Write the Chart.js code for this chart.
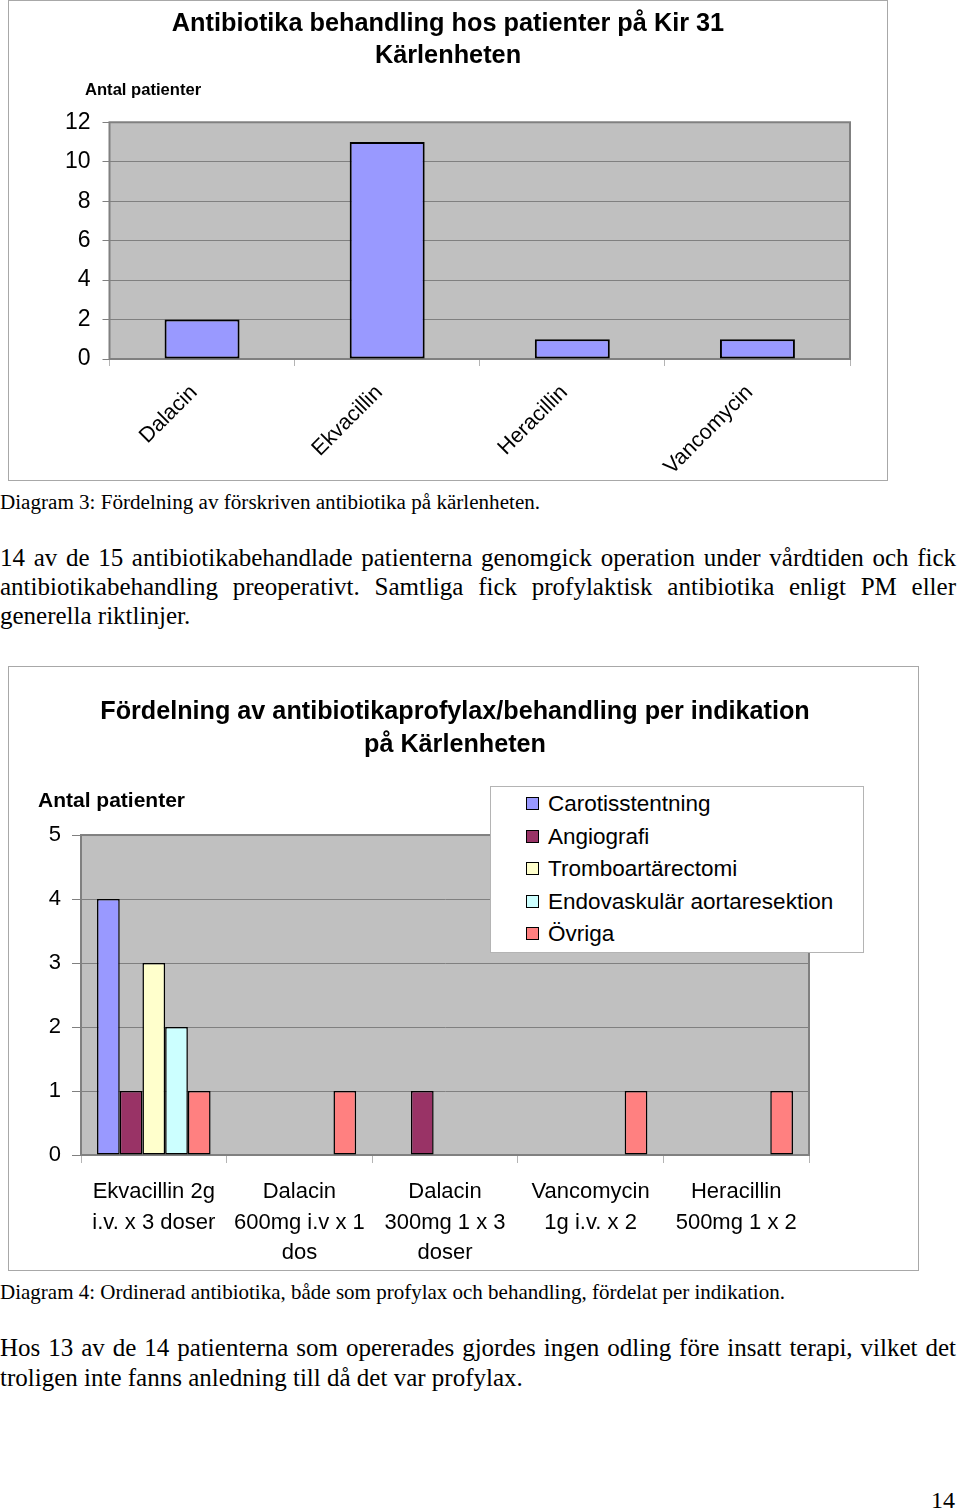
<!DOCTYPE html>
<html>
<head>
<meta charset="utf-8">
<script src="https://cdn.jsdelivr.net/npm/chart.js@4.4.1/dist/chart.umd.min.js"></script>
<style>
  body { margin: 0; background: #fff; }
  #page { position: relative; width: 960px; height: 1511px; overflow: hidden; background: #fff; }
  .box { position: absolute; box-sizing: border-box; border: 1px solid #a8a8a8; background: #fff; }
  .box canvas { position: absolute; left: 0; top: 0; }
  .sans { font-family: "Liberation Sans", Arial, sans-serif; color: #000; }
  .serif { font-family: "Liberation Serif", "Times New Roman", serif; color: #000; }
  .abs { position: absolute; white-space: nowrap; }
  .ytitle { font-weight: bold; }
  .just { position: absolute; left: 0; width: 956px; text-align: justify; text-align-last: justify; }
  .plain { position: absolute; left: 0; white-space: nowrap; }
  #legend { position: absolute; left: 490px; top: 786px; width: 374px; height: 167px; box-sizing: border-box; border: 1px solid #b4b4b4; background: #fff; }
  #legend .row { position: absolute; left: 0; height: 30px; line-height: 30px; font-size: 22.5px; white-space: nowrap; }
  #legend .sw { position: absolute; left: 35px; top: 8px; width: 13px; height: 13px; box-sizing: border-box; border: 1px solid #000; }
  #legend .lbl { position: absolute; left: 57px; top: 0; }
</style>
</head>
<body>
<div id="page">
  <div class="box" style="left:8px;top:0;width:880px;height:481px;">
    <canvas id="chart-drugs" width="878" height="479"></canvas>
  </div>
  <div class="abs sans ytitle" style="left:85px;top:80px;font-size:16.6px;line-height:20px;">Antal patienter</div>

  <div class="plain serif" style="top:490px;font-size:21.1px;line-height:24px;">Diagram 3: Fördelning av förskriven antibiotika på kärlenheten.</div>

  <div class="just serif" style="top:543px;font-size:25px;line-height:29px;">14 av de 15 antibiotikabehandlade patienterna genomgick operation under vårdtiden och fick</div>
  <div class="just serif" style="top:572px;font-size:25px;line-height:29px;">antibiotikabehandling preoperativt. Samtliga fick profylaktisk antibiotika enligt PM eller</div>
  <div class="plain serif" style="top:601px;font-size:25px;line-height:29px;">generella riktlinjer.</div>

  <div class="box" style="left:8px;top:666px;width:911px;height:605px;">
    <canvas id="chart-indications" width="909" height="603"></canvas>
  </div>
  <div class="abs sans ytitle" style="left:38px;top:788px;font-size:21px;line-height:24px;">Antal patienter</div>
  <div id="legend" class="sans"></div>

  <div class="plain serif" style="top:1280px;font-size:21px;line-height:24px;">Diagram 4: Ordinerad antibiotika, både som profylax och behandling, fördelat per indikation.</div>

  <div class="just serif" style="top:1333px;font-size:25px;line-height:30px;">Hos 13 av de 14 patienterna som opererades gjordes ingen odling före insatt terapi, vilket det</div>
  <div class="plain serif" style="top:1363px;font-size:25px;line-height:30px;">troligen inte fanns anledning till då det var profylax.</div>

  <div class="abs serif" style="left:931px;top:1486px;font-size:24px;line-height:28px;">14</div>
</div>

<script>
// Diagram 3
const drugNames = ["Dalacin", "Ekvacillin", "Heracillin", "Vancomycin"];
const drugPatients = [2, 11, 1, 1];
const drugTicks = [0, 2, 4, 6, 8, 10, 12];

// Diagram 4
const regimenLabels = [
  ["Ekvacillin 2g", "i.v. x 3 doser"],
  ["Dalacin", "600mg i.v x 1", "dos"],
  ["Dalacin", "300mg 1 x 3", "doser"],
  ["Vancomycin", "1g i.v. x 2"],
  ["Heracillin", "500mg 1 x 2"],
];
const indicationNames = ["Carotisstentning", "Angiografi", "Tromboartärectomi", "Endovaskulär aortaresektion", "Övriga"];
const carotisstentning = [4, 0, 0, 0, 0];
const angiografi = [1, 0, 1, 0, 0];
const tromboartarectomi = [3, 0, 0, 0, 0];
const endovaskular = [2, 0, 0, 0, 0];
const ovriga = [1, 1, 0, 1, 1];
const indicationTicks = [0, 1, 2, 3, 4, 5];
const indicationColors = ["#9999ff", "#993366", "#ffffcc", "#ccffff", "#ff8080"];

Chart.defaults.font.family = "'Liberation Sans', Arial, sans-serif";
Chart.defaults.color = "#000";
Chart.defaults.animation = false;

// grey plot area like the old Excel charts
const plotBg = {
  id: "plotBg",
  beforeDraw(chart) {
    const a = chart.chartArea;
    const c = chart.ctx;
    c.save();
    c.fillStyle = "#c0c0c0";
    c.fillRect(a.left, a.top, a.right - a.left, a.bottom - a.top);
    c.strokeStyle = "#808080";
    c.lineWidth = 2;
    c.strokeRect(a.left, a.top, a.right - a.left, a.bottom - a.top);
    c.restore();
  },
};

const fixedTicks = (list) => (s) => { s.ticks = list.map((v) => ({ value: v })); };

const drugsCanvas = document.querySelector("#chart-drugs");
const chartDrugs = new Chart(drugsCanvas, {
  type: "bar",
  data: {
    labels: drugNames,
    datasets: [
      {
        label: "Antal patienter",
        data: drugPatients,
        backgroundColor: "#9999ff",
        borderColor: "#000",
        borderWidth: 2,
        borderSkipped: false,
        barPercentage: 0.405,
        categoryPercentage: 1,
      },
    ],
  },
  options: {
    responsive: false,
    layout: { padding: 0 },
    plugins: {
      legend: { display: false },
      tooltip: { enabled: false },
      title: {
        display: true,
        text: ["Antibiotika behandling hos patienter på Kir 31", "Kärlenheten"],
        color: "#000",
        font: { size: 25.3, weight: "bold", lineHeight: 1.27 },
        padding: { top: 7, bottom: 50 },
      },
    },
    scales: {
      x: {
        ticks: { font: { size: 21.5 }, minRotation: 45, maxRotation: 45, padding: 14, labelOffset: -8 },
        grid: { offset: true, drawOnChartArea: false, tickLength: 7, color: "#b4b4b4" },
        border: { color: "#808080", width: 2 },
        afterFit: (s) => { s.height = 121; },
      },
      y: {
        min: 0,
        max: 12,
        afterBuildTicks: fixedTicks(drugTicks),
        ticks: { font: { size: 23 }, padding: 12 },
        grid: { color: "#808080", tickLength: 7 },
        border: { color: "#808080" },
        afterFit: (s) => { s.width = 100.5; },
      },
      pad: {
        position: "right",
        ticks: { display: false },
        grid: { display: false },
        border: { display: false },
        afterFit: (s) => { s.width = 37; },
      },
    },
  },
  plugins: [plotBg],
});

const indicationSeries = [carotisstentning, angiografi, tromboartarectomi, endovaskular, ovriga];

const indicationsCanvas = document.querySelector("#chart-indications");
const chartIndications = new Chart(indicationsCanvas, {
  type: "bar",
  data: {
    labels: regimenLabels,
    datasets: indicationSeries.map((values, i) => ({
      label: indicationNames[i],
      data: values,
      backgroundColor: indicationColors[i],
      borderColor: "#000",
      borderWidth: (ctx) => (ctx.raw ? 1.5 : 0),
      borderSkipped: false,
      barPercentage: 1,
      categoryPercentage: 0.78,
    })),
  },
  options: {
    responsive: false,
    layout: { padding: { left: 0, top: 0, bottom: 0, right: 17 } },
    plugins: {
      legend: { display: false },
      tooltip: { enabled: false },
      title: {
        display: true,
        text: ["Fördelning av antibiotikaprofylax/behandling per indikation", "på Kärlenheten"],
        color: "#000",
        font: { size: 25.2, weight: "bold", lineHeight: 1.31 },
        padding: { top: 28.5, bottom: 73.5 },
      },
    },
    scales: {
      x: {
        ticks: { font: { size: 22, lineHeight: 1.38 }, maxRotation: 0, autoSkip: false, padding: 14 },
        grid: { offset: true, drawOnChartArea: false, tickLength: 8, color: "#b4b4b4" },
        border: { color: "#808080", width: 2 },
        afterFit: (s) => { s.height = 115; },
      },
      y: {
        min: 0,
        max: 5,
        afterBuildTicks: fixedTicks(indicationTicks),
        ticks: { font: { size: 22 }, padding: 11 },
        grid: { color: "#808080", tickLength: 9 },
        border: { color: "#808080" },
        afterFit: (s) => { s.width = 72; },
      },
      pad: {
        position: "right",
        ticks: { display: false },
        grid: { display: false },
        border: { display: false },
        afterFit: (s) => { s.width = 92; },
      },
    },
  },
  plugins: [plotBg],
});

// legend box drawn over the plot, as in the original
const legendBox = document.querySelector("#legend");
chartIndications.data.datasets.forEach((ds, i) => {
  const row = document.createElement("div");
  row.className = "row";
  row.style.top = (2 + i * 32.5) + "px";
  const sw = document.createElement("span");
  sw.className = "sw";
  sw.style.background = ds.backgroundColor;
  const lbl = document.createElement("span");
  lbl.className = "lbl";
  lbl.textContent = ds.label;
  row.appendChild(sw);
  row.appendChild(lbl);
  legendBox.appendChild(row);
});
</script>
</body>
</html>
